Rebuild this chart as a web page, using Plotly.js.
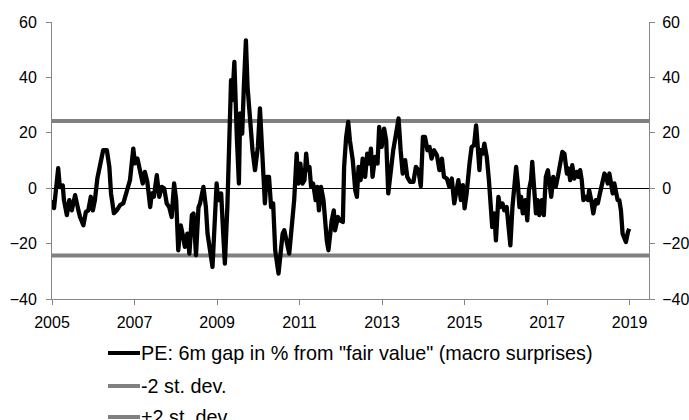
<!DOCTYPE html>
<html>
<head>
<meta charset="utf-8">
<script src="https://cdn.plot.ly/plotly-3.0.1.min.js"></script>
<style>
html,body{margin:0;padding:0;background:#fff;}
#chart{width:689px;height:420px;}
.scatterlayer .js-line{stroke-linejoin:round;}
</style>
</head>
<body>
<div id="chart"></div>
<script>
// Dates as decimal years, values in % gap
const years = [
2005.00,2005.05,2005.15,2005.19,2005.26,2005.29,2005.36,2005.42,2005.48,2005.56,2005.64,2005.68,2005.76,2005.82,2005.88,2005.94,2005.99,
2006.04,2006.10,2006.18,2006.24,2006.33,2006.39,2006.43,2006.50,2006.57,2006.65,2006.73,2006.81,2006.89,2006.97,
2007.01,2007.07,2007.13,2007.20,2007.25,2007.31,2007.38,2007.42,2007.47,2007.54,2007.60,2007.66,2007.72,2007.78,2007.84,2007.90,2007.96,
2008.01,2008.06,2008.12,2008.18,2008.22,2008.28,2008.33,2008.39,2008.43,2008.49,2008.55,2008.59,2008.67,2008.73,2008.77,2008.83,2008.89,2008.93,2008.99,
2009.03,2009.10,2009.15,2009.19,2009.25,2009.30,2009.34,2009.37,2009.42,2009.48,2009.53,2009.56,2009.61,2009.65,2009.70,2009.74,2009.80,2009.86,2009.92,2009.99,
2010.04,2010.08,2010.12,2010.16,2010.20,2010.26,2010.31,2010.36,2010.41,2010.45,2010.49,2010.54,2010.59,2010.63,2010.69,2010.75,2010.81,2010.87,2010.93,2010.97,
2011.02,2011.07,2011.12,2011.16,2011.20,2011.24,2011.28,2011.33,2011.39,2011.43,2011.47,2011.52,2011.58,2011.62,2011.66,2011.70,2011.74,2011.78,2011.83,2011.86,2011.93,2011.98,
2012.05,2012.08,2012.13,2012.18,2012.22,2012.29,2012.35,2012.39,2012.43,2012.48,2012.53,2012.59,2012.64,2012.69,2012.73,2012.77,2012.83,2012.89,2012.93,2012.99,
2013.05,2013.10,2013.15,2013.21,2013.27,2013.34,2013.40,2013.45,2013.50,2013.56,2013.61,2013.68,2013.76,2013.82,2013.88,2013.94,2013.99,
2014.04,2014.10,2014.15,2014.20,2014.26,2014.33,2014.39,2014.45,2014.50,2014.57,2014.63,2014.69,2014.75,2014.79,2014.85,2014.91,2014.96,
2015.00,2015.05,2015.12,2015.17,2015.23,2015.28,2015.32,2015.36,2015.39,2015.44,2015.48,2015.54,2015.59,2015.64,2015.67,2015.72,2015.76,2015.82,2015.86,2015.92,2015.96,
2016.02,2016.06,2016.11,2016.16,2016.21,2016.25,2016.29,2016.33,2016.37,2016.41,2016.47,2016.52,2016.56,2016.61,2016.64,2016.69,2016.73,2016.77,2016.81,2016.87,2016.92,2016.97,
2017.02,2017.06,2017.10,2017.15,2017.21,2017.26,2017.32,2017.37,2017.42,2017.48,2017.52,2017.56,2017.61,2017.66,2017.72,2017.76,2017.80,2017.84,2017.88,2017.94,2017.99,
2018.02,2018.07,2018.12,2018.18,2018.23,2018.28,2018.34,2018.39,2018.43,2018.47,2018.51,2018.55,2018.59,2018.63,2018.67,2018.71,2018.75,2018.79,2018.83,2018.86,2018.91,2018.96,2018.99
];
const peGap = [
-4.3,-7.2,7.2,0.4,1.0,-4.3,-9.7,-4.3,-8.0,-2.5,-8.0,-10.4,-13.4,-8.6,-8.0,-3.1,-8.0,
-4.3,3.6,10.1,13.7,13.7,7.7,-1.8,-9.0,-8.0,-6.1,-5.4,-1.3,2.9,14.3,
9.0,10.7,6.5,1.7,5.9,2.3,-6.8,-1.9,-3.1,4.7,-3.1,0.5,-0.1,-5.5,-6.8,-10.4,1.7,
-4.3,-22.4,-13.4,-17.6,-21.2,-16.4,-23.6,-9.7,-9.1,-24.2,-7.0,-5.4,0.5,-6.8,-16.4,-22.4,-28.4,-16.4,1.7,
-4.3,-1.9,-16.4,-27.2,-6.8,14.9,39.0,31.8,45.6,18.5,1.7,27.0,19.7,36.6,53.4,36.6,24.5,13.7,6.5,14.9,
28.8,17.3,-0.7,-5.5,4.1,4.1,-6.8,-5.5,-22.4,-27.2,-30.8,-23.6,-16.4,-15.2,-18.8,-23.6,-14.0,-4.3,12.5,1.7,
8.9,1.7,2.9,12.5,6.5,7.7,0.5,1.7,-4.3,0.5,-8.0,0.5,-4.3,-14.0,-18.8,-22.4,-16.4,-11.6,-8.0,-15.2,-10.4,-11.6,
-12.2,7.7,18.5,23.9,17.3,10.1,-0.7,-3.1,7.7,2.9,10.7,4.1,12.5,8.9,14.3,4.1,11.3,8.9,22.1,14.9,
21.5,17.3,-1.9,7.7,13.7,19.7,25.2,13.7,5.3,10.1,4.1,2.3,2.3,7.7,6.5,0.7,18.5,
18.5,13.7,14.9,10.7,13.7,11.9,6.5,10.7,4.1,3.5,0.5,3.5,-5.5,-1.9,2.9,-4.3,1.1,
-7.3,-1.9,8.9,14.9,15.5,22.7,14.9,6.5,13.7,12.5,16.1,11.0,2.9,-10.4,-14.0,-9.1,-18.8,-3.1,-6.8,-5.5,-8.0,
-6.8,-14.0,-20.6,-6.8,4.1,7.7,1.7,-6.8,-3.1,-9.1,-4.3,-11.6,-0.7,2.9,9.5,0.5,-9.1,-4.3,-9.7,-4.3,-9.7,4.1,
6.5,1.7,-3.1,4.1,0.5,4.1,9.5,13.1,12.5,5.3,7.1,2.9,8.3,3.5,5.9,4.1,6.5,2.9,-4.3,-3.1,-4.3,
-0.7,-4.3,-9.1,-4.3,-5.5,-1.9,2.9,5.3,4.1,1.7,5.3,0.5,-1.9,1.7,-0.7,-4.3,-4.3,-8.0,-16.4,-17.6,-19.4,-15.8,-14.6
];
const minusTwoSD = -24.3;
const plusTwoSD = 24.3;
const xRange = [2005, 2019.47];
const yRange = [-40, 60];
const xTicks = [2005, 2007, 2009, 2011, 2013, 2015, 2017, 2019];
const yTicks = [-40, -20, 0, 20, 40, 60];
const seriesNames = ['PE: 6m gap in % from "fair value" (macro surprises)', '-2 st. dev.', '+2 st. dev.'];
const seriesColors = ['#000000', '#808080', '#808080'];

const FONT = 'Liberation Sans, Arial, sans-serif';

const traces = [
  {x: xRange, y: [minusTwoSD, minusTwoSD], type: 'scatter', mode: 'lines', name: seriesNames[1],
   line: {color: seriesColors[1], width: 4}, xaxis: 'x', yaxis: 'y'},
  {x: xRange, y: [plusTwoSD, plusTwoSD], type: 'scatter', mode: 'lines', name: seriesNames[2],
   line: {color: seriesColors[2], width: 4}, xaxis: 'x', yaxis: 'y'},
  {x: years, y: peGap, type: 'scatter', mode: 'lines', name: seriesNames[0],
   line: {color: seriesColors[0], width: 4.3}, xaxis: 'x', yaxis: 'y2'}
];

// manual legend (pixel layout converted to paper coords)
const plotL = 52, plotT = 22, plotW = 597, plotH = 277;
const px = v => (v - plotL) / plotW;
const py = v => (plotT + plotH - v) / plotH;
const legendRows = [353, 386, 417];
const shapes = [];
const annotations = [];
seriesNames.forEach((nm, i) => {
  shapes.push({type: 'line', xref: 'paper', yref: 'paper',
    x0: px(108), x1: px(140), y0: py(legendRows[i]), y1: py(legendRows[i]),
    line: {color: seriesColors[i], width: 4}});
  annotations.push({xref: 'paper', yref: 'paper', x: px(139), y: py(legendRows[i]),
    xanchor: 'left', yanchor: 'middle', showarrow: false, text: nm,
    font: {family: FONT, size: 19.8, color: '#000'}});
});

const layout = {
  width: 689, height: 420,
  margin: {l: 52, r: 40, t: 22, b: 121, pad: 0},
  paper_bgcolor: '#fff', plot_bgcolor: '#fff',
  showlegend: false,
  font: {family: FONT, size: 16, color: '#000'},
  xaxis: {range: xRange, tickvals: xTicks, ticktext: xTicks.map(String),
    showgrid: false, zeroline: false, showline: true, linecolor: '#868686', linewidth: 1,
    ticks: 'outside', ticklen: 5, tickcolor: '#868686', ticklabelstandoff: 4,
    tickfont: {family: FONT, size: 16, color: '#000'}},
  yaxis: {range: yRange, tickvals: yTicks, showgrid: false,
    zeroline: true, zerolinecolor: '#000', zerolinewidth: 1,
    showline: true, linecolor: '#868686', linewidth: 1,
    ticks: 'outside', ticklen: 5, tickcolor: '#868686', ticklabelstandoff: 6,
    tickfont: {family: FONT, size: 16, color: '#000'}},
  yaxis2: {range: yRange, tickvals: yTicks, overlaying: 'y', side: 'right', showgrid: false,
    zeroline: false, showline: true, linecolor: '#868686', linewidth: 1,
    ticks: 'outside', ticklen: 5, tickcolor: '#868686', ticklabelstandoff: 4,
    tickfont: {family: FONT, size: 16, color: '#000'}},
  shapes: shapes,
  annotations: annotations
};

Plotly.newPlot('chart', traces, layout, {staticPlot: true, displayModeBar: false});
</script>
</body>
</html>
